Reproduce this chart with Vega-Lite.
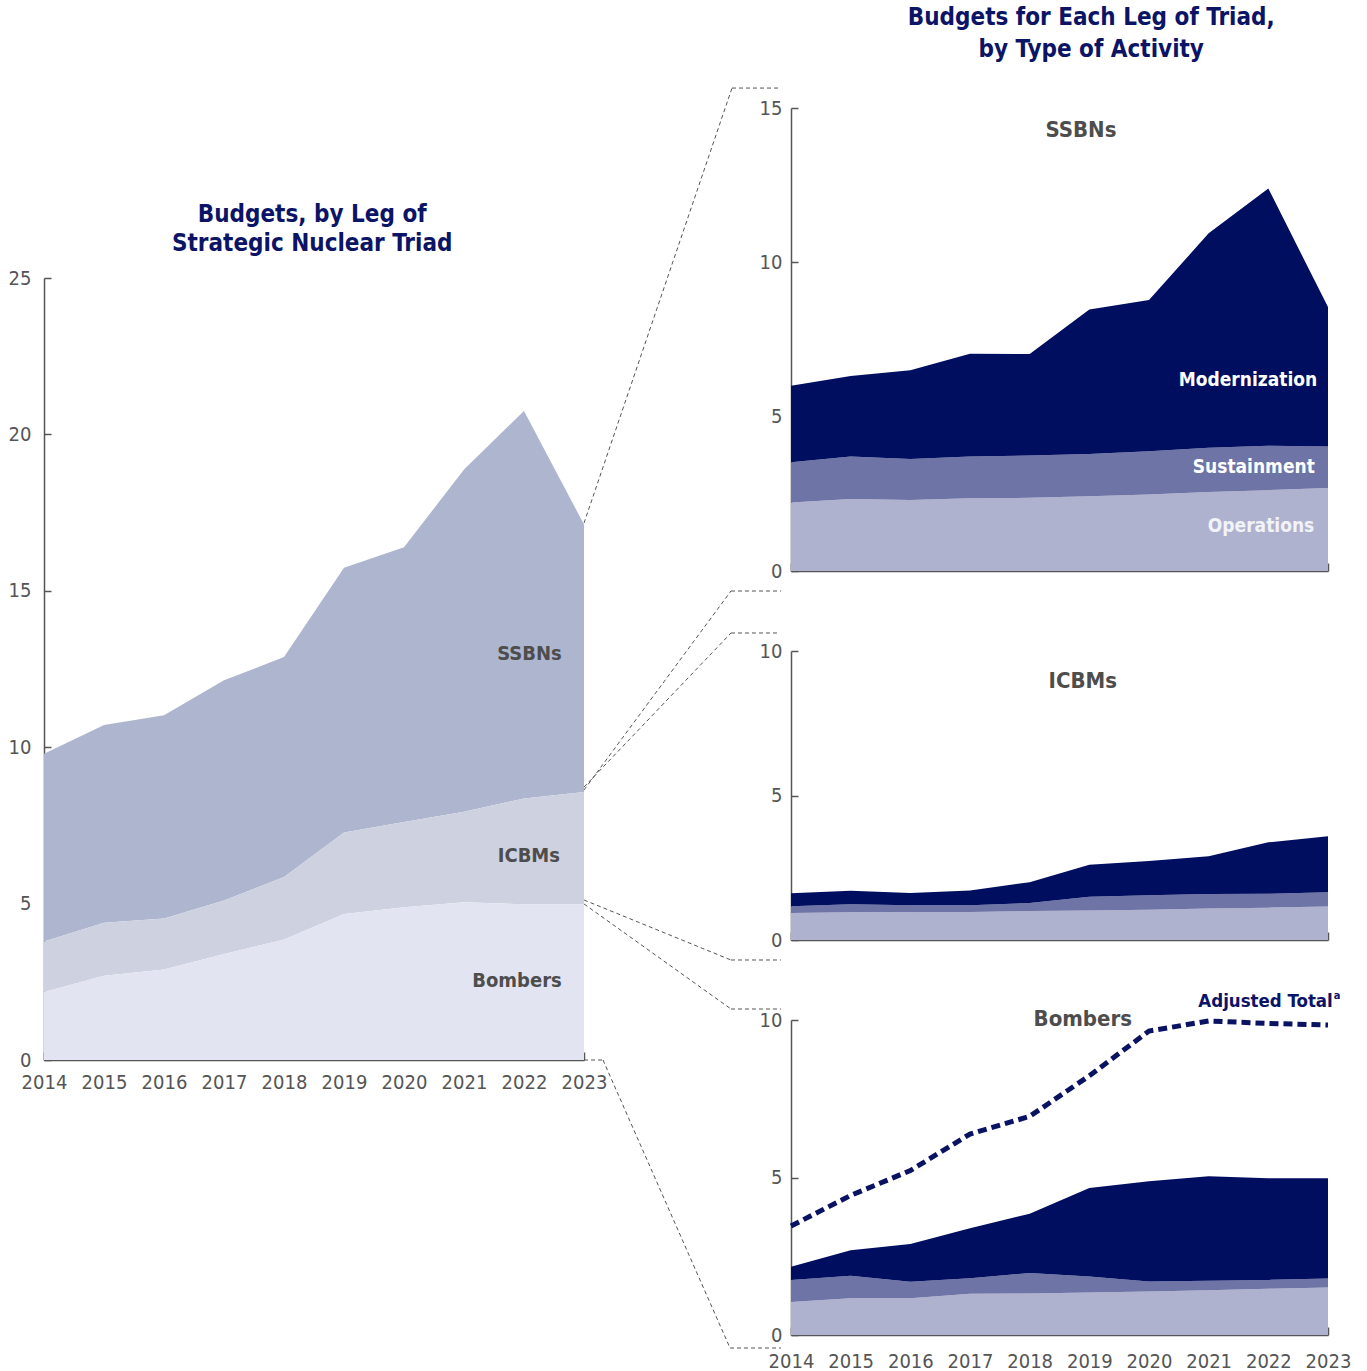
{
  "$schema": "https://vega.github.io/schema/vega-lite/v6.json",
  "padding": {"left": 8, "top": 5, "right": 5, "bottom": 0},
  "background": "white",
  "config": {
    "font": "DejaVu Sans Condensed, DejaVu Sans, sans-serif",
    "view": {"stroke": null},
    "axis": {
      "grid": false,
      "zindex": 1,
      "domainColor": "#555555",
      "tickColor": "#555555",
      "labelColor": "#555555",
      "labelFont": "DejaVu Sans Condensed, DejaVu Sans, sans-serif",
      "labelFontSize": 20,
      "domainWidth": 1.5,
      "tickWidth": 1.5
    },
    "title": {
      "font": "DejaVu Sans Condensed, DejaVu Sans, sans-serif",
      "fontSize": 24,
      "fontWeight": "bold",
      "color": "#0c1466",
      "anchor": "middle",
      "lineHeight": 32
    },
    "text": {"font": "DejaVu Sans Condensed, DejaVu Sans, sans-serif"},
    "rule": {"color": "#555555", "strokeWidth": 1, "strokeDash": [4, 3]}
  },
  "resolve": {"scale": {"color": "independent"}},
  "datasets": {
    "activity": [
      {"year": 2014, "leg": "SSBNs", "activity": "Operations", "value": 2.22},
      {"year": 2015, "leg": "SSBNs", "activity": "Operations", "value": 2.33},
      {"year": 2016, "leg": "SSBNs", "activity": "Operations", "value": 2.30},
      {"year": 2017, "leg": "SSBNs", "activity": "Operations", "value": 2.36},
      {"year": 2018, "leg": "SSBNs", "activity": "Operations", "value": 2.37},
      {"year": 2019, "leg": "SSBNs", "activity": "Operations", "value": 2.42},
      {"year": 2020, "leg": "SSBNs", "activity": "Operations", "value": 2.48},
      {"year": 2021, "leg": "SSBNs", "activity": "Operations", "value": 2.56},
      {"year": 2022, "leg": "SSBNs", "activity": "Operations", "value": 2.62},
      {"year": 2023, "leg": "SSBNs", "activity": "Operations", "value": 2.69},
      {"year": 2014, "leg": "SSBNs", "activity": "Sustainment", "value": 1.30},
      {"year": 2015, "leg": "SSBNs", "activity": "Sustainment", "value": 1.38},
      {"year": 2016, "leg": "SSBNs", "activity": "Sustainment", "value": 1.33},
      {"year": 2017, "leg": "SSBNs", "activity": "Sustainment", "value": 1.35},
      {"year": 2018, "leg": "SSBNs", "activity": "Sustainment", "value": 1.37},
      {"year": 2019, "leg": "SSBNs", "activity": "Sustainment", "value": 1.37},
      {"year": 2020, "leg": "SSBNs", "activity": "Sustainment", "value": 1.40},
      {"year": 2021, "leg": "SSBNs", "activity": "Sustainment", "value": 1.43},
      {"year": 2022, "leg": "SSBNs", "activity": "Sustainment", "value": 1.44},
      {"year": 2023, "leg": "SSBNs", "activity": "Sustainment", "value": 1.34},
      {"year": 2014, "leg": "SSBNs", "activity": "Modernization", "value": 2.48},
      {"year": 2015, "leg": "SSBNs", "activity": "Modernization", "value": 2.61},
      {"year": 2016, "leg": "SSBNs", "activity": "Modernization", "value": 2.87},
      {"year": 2017, "leg": "SSBNs", "activity": "Modernization", "value": 3.33},
      {"year": 2018, "leg": "SSBNs", "activity": "Modernization", "value": 3.29},
      {"year": 2019, "leg": "SSBNs", "activity": "Modernization", "value": 4.68},
      {"year": 2020, "leg": "SSBNs", "activity": "Modernization", "value": 4.90},
      {"year": 2021, "leg": "SSBNs", "activity": "Modernization", "value": 6.95},
      {"year": 2022, "leg": "SSBNs", "activity": "Modernization", "value": 8.33},
      {"year": 2023, "leg": "SSBNs", "activity": "Modernization", "value": 4.52},
      {"year": 2014, "leg": "ICBMs", "activity": "Operations", "value": 0.93},
      {"year": 2015, "leg": "ICBMs", "activity": "Operations", "value": 0.96},
      {"year": 2016, "leg": "ICBMs", "activity": "Operations", "value": 0.96},
      {"year": 2017, "leg": "ICBMs", "activity": "Operations", "value": 0.97},
      {"year": 2018, "leg": "ICBMs", "activity": "Operations", "value": 1.00},
      {"year": 2019, "leg": "ICBMs", "activity": "Operations", "value": 1.02},
      {"year": 2020, "leg": "ICBMs", "activity": "Operations", "value": 1.05},
      {"year": 2021, "leg": "ICBMs", "activity": "Operations", "value": 1.09},
      {"year": 2022, "leg": "ICBMs", "activity": "Operations", "value": 1.12},
      {"year": 2023, "leg": "ICBMs", "activity": "Operations", "value": 1.16},
      {"year": 2014, "leg": "ICBMs", "activity": "Sustainment", "value": 0.24},
      {"year": 2015, "leg": "ICBMs", "activity": "Sustainment", "value": 0.28},
      {"year": 2016, "leg": "ICBMs", "activity": "Sustainment", "value": 0.24},
      {"year": 2017, "leg": "ICBMs", "activity": "Sustainment", "value": 0.23},
      {"year": 2018, "leg": "ICBMs", "activity": "Sustainment", "value": 0.28},
      {"year": 2019, "leg": "ICBMs", "activity": "Sustainment", "value": 0.48},
      {"year": 2020, "leg": "ICBMs", "activity": "Sustainment", "value": 0.50},
      {"year": 2021, "leg": "ICBMs", "activity": "Sustainment", "value": 0.50},
      {"year": 2022, "leg": "ICBMs", "activity": "Sustainment", "value": 0.48},
      {"year": 2023, "leg": "ICBMs", "activity": "Sustainment", "value": 0.49},
      {"year": 2014, "leg": "ICBMs", "activity": "Modernization", "value": 0.45},
      {"year": 2015, "leg": "ICBMs", "activity": "Modernization", "value": 0.46},
      {"year": 2016, "leg": "ICBMs", "activity": "Modernization", "value": 0.43},
      {"year": 2017, "leg": "ICBMs", "activity": "Modernization", "value": 0.51},
      {"year": 2018, "leg": "ICBMs", "activity": "Modernization", "value": 0.72},
      {"year": 2019, "leg": "ICBMs", "activity": "Modernization", "value": 1.10},
      {"year": 2020, "leg": "ICBMs", "activity": "Modernization", "value": 1.18},
      {"year": 2021, "leg": "ICBMs", "activity": "Modernization", "value": 1.31},
      {"year": 2022, "leg": "ICBMs", "activity": "Modernization", "value": 1.78},
      {"year": 2023, "leg": "ICBMs", "activity": "Modernization", "value": 1.94},
      {"year": 2014, "leg": "Bombers", "activity": "Operations", "value": 1.05},
      {"year": 2015, "leg": "Bombers", "activity": "Operations", "value": 1.17},
      {"year": 2016, "leg": "Bombers", "activity": "Operations", "value": 1.17},
      {"year": 2017, "leg": "Bombers", "activity": "Operations", "value": 1.31},
      {"year": 2018, "leg": "Bombers", "activity": "Operations", "value": 1.32},
      {"year": 2019, "leg": "Bombers", "activity": "Operations", "value": 1.35},
      {"year": 2020, "leg": "Bombers", "activity": "Operations", "value": 1.38},
      {"year": 2021, "leg": "Bombers", "activity": "Operations", "value": 1.42},
      {"year": 2022, "leg": "Bombers", "activity": "Operations", "value": 1.47},
      {"year": 2023, "leg": "Bombers", "activity": "Operations", "value": 1.51},
      {"year": 2014, "leg": "Bombers", "activity": "Sustainment", "value": 0.70},
      {"year": 2015, "leg": "Bombers", "activity": "Sustainment", "value": 0.71},
      {"year": 2016, "leg": "Bombers", "activity": "Sustainment", "value": 0.52},
      {"year": 2017, "leg": "Bombers", "activity": "Sustainment", "value": 0.49},
      {"year": 2018, "leg": "Bombers", "activity": "Sustainment", "value": 0.65},
      {"year": 2019, "leg": "Bombers", "activity": "Sustainment", "value": 0.51},
      {"year": 2020, "leg": "Bombers", "activity": "Sustainment", "value": 0.32},
      {"year": 2021, "leg": "Bombers", "activity": "Sustainment", "value": 0.30},
      {"year": 2022, "leg": "Bombers", "activity": "Sustainment", "value": 0.28},
      {"year": 2023, "leg": "Bombers", "activity": "Sustainment", "value": 0.28},
      {"year": 2014, "leg": "Bombers", "activity": "Modernization", "value": 0.42},
      {"year": 2015, "leg": "Bombers", "activity": "Modernization", "value": 0.81},
      {"year": 2016, "leg": "Bombers", "activity": "Modernization", "value": 1.20},
      {"year": 2017, "leg": "Bombers", "activity": "Modernization", "value": 1.59},
      {"year": 2018, "leg": "Bombers", "activity": "Modernization", "value": 1.88},
      {"year": 2019, "leg": "Bombers", "activity": "Modernization", "value": 2.81},
      {"year": 2020, "leg": "Bombers", "activity": "Modernization", "value": 3.18},
      {"year": 2021, "leg": "Bombers", "activity": "Modernization", "value": 3.32},
      {"year": 2022, "leg": "Bombers", "activity": "Modernization", "value": 3.23},
      {"year": 2023, "leg": "Bombers", "activity": "Modernization", "value": 3.19}
    ],
    "adjusted": [
      {"year": 2014, "value": 3.46},
      {"year": 2015, "value": 4.43},
      {"year": 2016, "value": 5.22},
      {"year": 2017, "value": 6.38},
      {"year": 2018, "value": 6.94},
      {"year": 2019, "value": 8.23},
      {"year": 2020, "value": 9.65},
      {"year": 2021, "value": 9.97},
      {"year": 2022, "value": 9.89},
      {"year": 2023, "value": 9.84}
    ]
  },
  "spacing": -24,
  "hconcat": [
    {
      "spacing": 0,
      "vconcat": [
        {
          "width": 540,
          "height": 95,
          "data": {"values": [{"t": ""}]},
          "mark": {"type": "text"},
          "encoding": {"text": {"field": "t", "type": "nominal"}}
        },
        {
          "width": 540,
          "height": 782,
          "layer": [
            {
              "data": {"name": "activity"},
              "mark": {"type": "area"},
              "encoding": {
                "x": {
                  "field": "year", "type": "quantitative", "title": null,
                  "scale": {"domain": [2014, 2023], "nice": false, "zero": false},
                  "axis": {"values": [2014, 2015, 2016, 2017, 2018, 2019, 2020, 2021, 2022, 2023], "format": "d", "tickSize": -8, "labelPadding": 20, "labelFlush": false}
                },
                "y": {
                  "aggregate": "sum", "field": "value", "type": "quantitative", "title": null,
                  "scale": {"domain": [0, 25], "nice": false},
                  "axis": {"values": [0, 5, 10, 15, 20, 25], "tickSize": -7, "labelPadding": 20}
                },
                "color": {
                  "field": "leg", "type": "nominal",
                  "scale": {"domain": ["Bombers", "ICBMs", "SSBNs"], "range": ["#e2e5f1", "#cdd1e0", "#aeb6cf"]},
                  "legend": null
                },
                "order": {"field": "leg", "sort": "ascending"}
              }
            },
            {
              "data": {"values": [{"t": "Budgets, by Leg of"}]},
              "mark": {"type": "text", "align": "center", "baseline": "alphabetic", "fontSize": 24, "fontWeight": "bold", "color": "#0c1466"},
              "encoding": {"text": {"field": "t", "type": "nominal"}, "x": {"datum": 2018.47}, "y": {"datum": 26.79}}
            },
            {
              "data": {"values": [{"t": "Strategic Nuclear Triad"}]},
              "mark": {"type": "text", "align": "center", "baseline": "alphabetic", "fontSize": 24, "fontWeight": "bold", "color": "#0c1466"},
              "encoding": {"text": {"field": "t", "type": "nominal"}, "x": {"datum": 2018.47}, "y": {"datum": 25.86}}
            },
            {
              "data": {"values": [{"t": "SSBNs"}]},
              "mark": {"type": "text", "align": "right", "baseline": "middle", "fontSize": 20, "fontWeight": "bold", "color": "#4d4d4d"},
              "encoding": {"text": {"field": "t", "type": "nominal"}, "x": {"datum": 2022.63}, "y": {"datum": 12.98}}
            },
            {
              "data": {"values": [{"t": "ICBMs"}]},
              "mark": {"type": "text", "align": "right", "baseline": "middle", "fontSize": 20, "fontWeight": "bold", "color": "#4d4d4d"},
              "encoding": {"text": {"field": "t", "type": "nominal"}, "x": {"datum": 2022.6}, "y": {"datum": 6.52}}
            },
            {
              "data": {"values": [{"t": "Bombers"}]},
              "mark": {"type": "text", "align": "right", "baseline": "middle", "fontSize": 20, "fontWeight": "bold", "color": "#4d4d4d"},
              "encoding": {"text": {"field": "t", "type": "nominal"}, "x": {"datum": 2022.63}, "y": {"datum": 2.53}}
            }
          ]
        }
      ]
    },
    {
      "title": {"text": ["Budgets for Each Leg of Triad,", "by Type of Activity"], "offset": 26, "dx": 124},
      "spacing": 80,
      "bounds": "flush",
      "vconcat": [
        {
          "width": 537,
          "height": 463,
          "layer": [
            {
              "data": {"name": "activity"},
              "transform": [
                {"filter": "datum.leg === 'SSBNs'"},
                {"calculate": "indexof(['Operations','Sustainment','Modernization'], datum.activity)", "as": "stackOrder"}
              ],
              "mark": {"type": "area"},
              "encoding": {
                "x": {
                  "field": "year", "type": "quantitative", "title": null,
                  "scale": {"domain": [2014, 2023], "nice": false, "zero": false},
                  "axis": {"values": [2014, 2015, 2016, 2017, 2018, 2019, 2020, 2021, 2022, 2023], "format": "d", "tickSize": -8, "labels": false}
                },
                "y": {
                  "field": "value", "type": "quantitative", "title": null, "stack": "zero",
                  "scale": {"domain": [0, 15], "nice": false},
                  "axis": {"values": [0, 5, 10, 15], "tickSize": -7, "labelPadding": 16}
                },
                "color": {
                  "field": "activity", "type": "nominal",
                  "scale": {"domain": ["Operations", "Sustainment", "Modernization"], "range": ["#aeb2cf", "#6f74a6", "#000e60"]},
                  "legend": null
                },
                "order": {"field": "stackOrder", "type": "quantitative", "sort": "ascending"}
              }
            },
            {
              "data": {"values": [{}]},
              "mark": {"type": "rule"},
              "encoding": {"x": {"datum": 2010.531}, "y": {"datum": 1.555}, "x2": {"datum": 2013.011}, "y2": {"datum": 15.646}}
            },
            {
              "data": {"values": [{}]},
              "mark": {"type": "rule"},
              "encoding": {"x": {"datum": 2013.011}, "y": {"datum": 15.646}, "x2": {"datum": 2013.832}, "y2": {"datum": 15.646}}
            },
            {
              "data": {"values": [{}]},
              "mark": {"type": "rule"},
              "encoding": {"x": {"datum": 2010.531}, "y": {"datum": -7.094}, "x2": {"datum": 2012.994}, "y2": {"datum": -0.648}}
            },
            {
              "data": {"values": [{}]},
              "mark": {"type": "rule"},
              "encoding": {"x": {"datum": 2012.994}, "y": {"datum": -0.648}, "x2": {"datum": 2013.832}, "y2": {"datum": -0.648}}
            },
            {
              "data": {"values": [{"t": "SSBNs"}]},
              "mark": {"type": "text", "align": "center", "baseline": "middle", "fontSize": 22, "fontWeight": "bold", "color": "#4d4d4d"},
              "encoding": {"text": {"field": "t", "type": "nominal"}, "x": {"datum": 2018.86}, "y": {"datum": 14.29}}
            },
            {
              "data": {"values": [{"t": "Modernization"}]},
              "mark": {"type": "text", "align": "right", "baseline": "middle", "fontSize": 19, "fontWeight": "bold", "color": "#ffffff"},
              "encoding": {"text": {"field": "t", "type": "nominal"}, "x": {"datum": 2022.82}, "y": {"datum": 6.19}}
            },
            {
              "data": {"values": [{"t": "Sustainment"}]},
              "mark": {"type": "text", "align": "right", "baseline": "middle", "fontSize": 19, "fontWeight": "bold", "color": "#ffffff"},
              "encoding": {"text": {"field": "t", "type": "nominal"}, "x": {"datum": 2022.78}, "y": {"datum": 3.37}}
            },
            {
              "data": {"values": [{"t": "Operations"}]},
              "mark": {"type": "text", "align": "right", "baseline": "middle", "fontSize": 19, "fontWeight": "bold", "color": "#f2f3f8"},
              "encoding": {"text": {"field": "t", "type": "nominal"}, "x": {"datum": 2022.77}, "y": {"datum": 1.46}}
            }
          ]
        },
        {
          "width": 537,
          "height": 289,
          "layer": [
            {
              "data": {"name": "activity"},
              "transform": [
                {"filter": "datum.leg === 'ICBMs'"},
                {"calculate": "indexof(['Operations','Sustainment','Modernization'], datum.activity)", "as": "stackOrder"}
              ],
              "mark": {"type": "area"},
              "encoding": {
                "x": {
                  "field": "year", "type": "quantitative", "title": null,
                  "scale": {"domain": [2014, 2023], "nice": false, "zero": false},
                  "axis": {"values": [2014, 2015, 2016, 2017, 2018, 2019, 2020, 2021, 2022, 2023], "format": "d", "tickSize": -8, "labels": false}
                },
                "y": {
                  "field": "value", "type": "quantitative", "title": null, "stack": "zero",
                  "scale": {"domain": [0, 10], "nice": false},
                  "axis": {"values": [0, 5, 10], "tickSize": -7, "labelPadding": 16}
                },
                "color": {
                  "field": "activity", "type": "nominal",
                  "scale": {"domain": ["Operations", "Sustainment", "Modernization"], "range": ["#aeb2cf", "#6f74a6", "#000e60"]},
                  "legend": null
                },
                "order": {"field": "stackOrder", "type": "quantitative", "sort": "ascending"}
              }
            },
            {
              "data": {"values": [{}]},
              "mark": {"type": "rule"},
              "encoding": {"x": {"datum": 2010.531}, "y": {"datum": 5.294}, "x2": {"datum": 2012.994}, "y2": {"datum": 10.623}}
            },
            {
              "data": {"values": [{}]},
              "mark": {"type": "rule"},
              "encoding": {"x": {"datum": 2012.994}, "y": {"datum": 10.623}, "x2": {"datum": 2013.799}, "y2": {"datum": 10.623}}
            },
            {
              "data": {"values": [{}]},
              "mark": {"type": "rule"},
              "encoding": {"x": {"datum": 2010.531}, "y": {"datum": 1.384}, "x2": {"datum": 2012.994}, "y2": {"datum": -0.692}}
            },
            {
              "data": {"values": [{}]},
              "mark": {"type": "rule"},
              "encoding": {"x": {"datum": 2012.994}, "y": {"datum": -0.692}, "x2": {"datum": 2013.832}, "y2": {"datum": -0.692}}
            },
            {
              "data": {"values": [{"t": "ICBMs"}]},
              "mark": {"type": "text", "align": "center", "baseline": "middle", "fontSize": 22, "fontWeight": "bold", "color": "#4d4d4d"},
              "encoding": {"text": {"field": "t", "type": "nominal"}, "x": {"datum": 2018.89}, "y": {"datum": 8.96}}
            }
          ]
        },
        {
          "width": 537,
          "height": 315,
          "layer": [
            {
              "data": {"name": "activity"},
              "transform": [
                {"filter": "datum.leg === 'Bombers'"},
                {"calculate": "indexof(['Operations','Sustainment','Modernization'], datum.activity)", "as": "stackOrder"}
              ],
              "mark": {"type": "area"},
              "encoding": {
                "x": {
                  "field": "year", "type": "quantitative", "title": null,
                  "scale": {"domain": [2014, 2023], "nice": false, "zero": false},
                  "axis": {"values": [2014, 2015, 2016, 2017, 2018, 2019, 2020, 2021, 2022, 2023], "format": "d", "tickSize": -8, "labelPadding": 24, "labelFlush": false}
                },
                "y": {
                  "field": "value", "type": "quantitative", "title": null, "stack": "zero",
                  "scale": {"domain": [0, 10], "nice": false},
                  "axis": {"values": [0, 5, 10], "tickSize": -7, "labelPadding": 16}
                },
                "color": {
                  "field": "activity", "type": "nominal",
                  "scale": {"domain": ["Operations", "Sustainment", "Modernization"], "range": ["#aeb2cf", "#6f74a6", "#000e60"]},
                  "legend": null
                },
                "order": {"field": "stackOrder", "type": "quantitative", "sort": "ascending"}
              }
            },
            {
              "data": {"name": "adjusted"},
              "mark": {"type": "line", "color": "#0a1262", "strokeWidth": 5, "strokeDash": [9, 5], "strokeCap": "butt", "clip": false},
              "encoding": {
                "x": {"field": "year", "type": "quantitative"},
                "y": {"field": "value", "type": "quantitative"}
              }
            },
            {
              "data": {"values": [{}]},
              "mark": {"type": "rule"},
              "encoding": {"x": {"datum": 2010.531}, "y": {"datum": 13.683}, "x2": {"datum": 2012.994}, "y2": {"datum": 10.349}}
            },
            {
              "data": {"values": [{}]},
              "mark": {"type": "rule"},
              "encoding": {"x": {"datum": 2012.994}, "y": {"datum": 10.349}, "x2": {"datum": 2013.832}, "y2": {"datum": 10.349}}
            },
            {
              "data": {"values": [{}]},
              "mark": {"type": "rule"},
              "encoding": {"x": {"datum": 2010.531}, "y": {"datum": 8.73}, "x2": {"datum": 2010.849}, "y2": {"datum": 8.73}}
            },
            {
              "data": {"values": [{}]},
              "mark": {"type": "rule"},
              "encoding": {"x": {"datum": 2010.849}, "y": {"datum": 8.73}, "x2": {"datum": 2012.978}, "y2": {"datum": -0.413}}
            },
            {
              "data": {"values": [{}]},
              "mark": {"type": "rule"},
              "encoding": {"x": {"datum": 2012.978}, "y": {"datum": -0.413}, "x2": {"datum": 2013.832}, "y2": {"datum": -0.413}}
            },
            {
              "data": {"values": [{"t": "Bombers"}]},
              "mark": {"type": "text", "align": "center", "baseline": "middle", "fontSize": 22, "fontWeight": "bold", "color": "#4d4d4d"},
              "encoding": {"text": {"field": "t", "type": "nominal"}, "x": {"datum": 2018.89}, "y": {"datum": 10.03}}
            },
            {
              "data": {"values": [{"t": "Adjusted Total"}]},
              "mark": {"type": "text", "align": "right", "baseline": "middle", "fontSize": 18.5, "fontWeight": "bold", "color": "#0c1466"},
              "encoding": {"text": {"field": "t", "type": "nominal"}, "x": {"datum": 2023.08}, "y": {"datum": 10.6}}
            },
            {
              "data": {"values": [{"t": "a"}]},
              "mark": {"type": "text", "align": "left", "baseline": "middle", "fontSize": 11, "fontWeight": "bold", "color": "#0c1466", "dx": 1, "dy": -5},
              "encoding": {"text": {"field": "t", "type": "nominal"}, "x": {"datum": 2023.08}, "y": {"datum": 10.6}}
            }
          ]
        }
      ]
    }
  ]
}
